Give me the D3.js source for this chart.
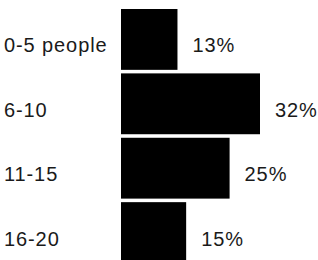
<!DOCTYPE html>
<html>
<head>
<meta charset="utf-8">
<script src="https://cdn.jsdelivr.net/npm/d3@7"></script>
<style>
  body { margin: 0; background: #fff; }
  text { font-family: "Liberation Sans", Arial, sans-serif; fill: #1a1a1a; }
</style>
</head>
<body>
<script>
const w = 318;
const h = 260;

const categories = ["0-5 people", "6-10", "11-15", "16-20"];
const values = [13, 32, 25, 15];
const valueLabels = ["13%", "32%", "25%", "15%"];

const svg = d3.select("body")
  .append("svg")
  .attr("width", w)
  .attr("height", h);

const x = d3.scaleLinear()
  .domain([0, 32])
  .range([121, 260]);

const y = d3.scaleBand()
  .domain(categories)
  .range([9, 263])
  .paddingInner(0.055);

const rows = svg.append("g")
  .selectAll("g")
  .data(categories)
  .enter()
  .append("g");

rows.append("rect")
  .attr("x", x(0))
  .attr("y", d => y(d))
  .attr("width", (d, i) => x(values[i]) - x(0))
  .attr("height", y.bandwidth())
  .attr("fill", "#000");

// category names on the left
rows.append("text")
  .attr("x", 4)
  .attr("y", d => y(d) + y.bandwidth() / 2 + 13)
  .attr("font-size", 20)
  .attr("letter-spacing", 0.9)
  .text(d => d);

// percentages after each bar
rows.append("text")
  .attr("x", (d, i) => x(values[i]) + 15)
  .attr("y", d => y(d) + y.bandwidth() / 2 + 13)
  .attr("font-size", 20)
  .attr("letter-spacing", 0.9)
  .text((d, i) => valueLabels[i]);
</script>
</body>
</html>
